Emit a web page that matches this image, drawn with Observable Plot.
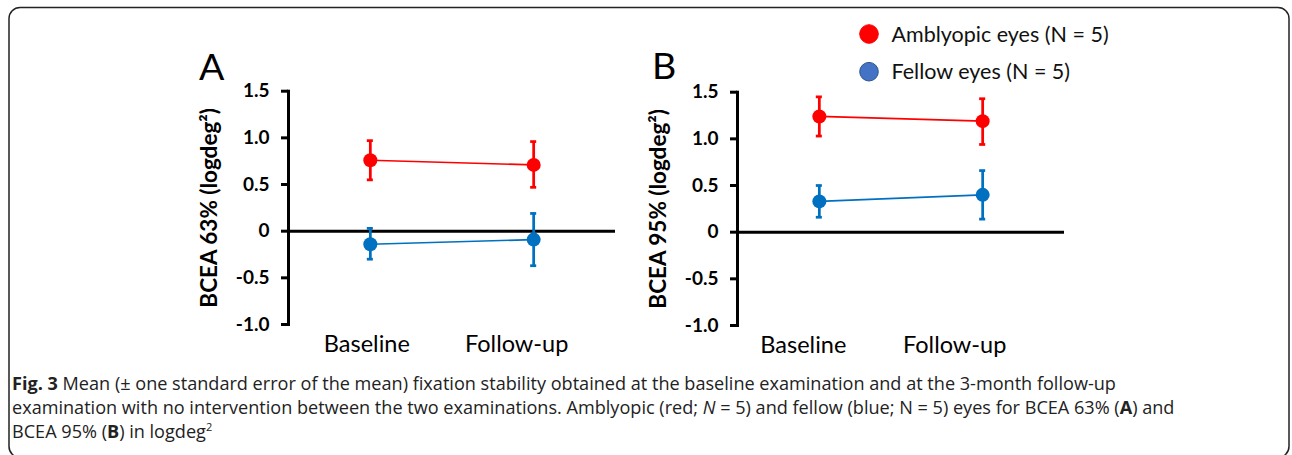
<!DOCTYPE html>
<html>
<head>
<meta charset="utf-8">
<script src="https://cdn.jsdelivr.net/npm/d3@7"></script>
<script src="https://cdn.jsdelivr.net/npm/@observablehq/plot@0.6"></script>
<style>
  html, body { margin: 0; padding: 0; background: #fff; }
  #root { position: relative; width: 1292px; height: 455px; overflow: hidden; font-family: Lato, "Open Sans", sans-serif; }
  .panel { position: absolute; }
  #overlay { position: absolute; left: 0; top: 0; }
  #caption { position: absolute; left: 12px; top: 371px; font-family: "Open Sans", sans-serif; font-size: 18.1px; line-height: 24px; color: #222; white-space: nowrap; }
  #caption sup { font-size: 11px; vertical-align: 7px; line-height: 0; }
</style>
</head>
<body>
<div id="root">
  <svg id="overlay" width="1292" height="455"></svg>
  <div id="panelA" class="panel" style="left:180px; top:40px;"></div>
  <div id="panelB" class="panel" style="left:628.7px; top:41px;"></div>
  <div id="caption"><b>Fig. 3</b> Mean (± one standard error of the mean) fixation stability obtained at the baseline examination and at the 3-month follow-up<br>examination with no intervention between the two examinations. Amblyopic (red; <i>N</i> = 5) and fellow (blue; N = 5) eyes for BCEA 63% (<b>A</b>) and<br>BCEA 95% (<b>B</b>) in logdeg<sup>2</sup></div>
</div>
<script>
// ---- data ----
const timepoints = ["Baseline", "Follow-up"];
const groups = ["Amblyopic eyes (N = 5)", "Fellow eyes (N = 5)"];
const lineColors = ["#FF0000", "#0070C0"];
const legendColors = ["#FF0000", "#4472C4"];
const legendStrokes = ["#FF0000", "#2F528F"];
const yTicks = [-1.0, -0.5, 0, 0.5, 1.0, 1.5];

// Panel A: BCEA 63%
const a63AmblyopicMean = [0.76, 0.71];
const a63AmblyopicLow  = [0.55, 0.47];
const a63AmblyopicHigh = [0.97, 0.96];
const a63FellowMean = [-0.14, -0.09];
const a63FellowLow  = [-0.30, -0.37];
const a63FellowHigh = [0.03, 0.19];

// Panel B: BCEA 95%
const b95AmblyopicMean = [1.24, 1.19];
const b95AmblyopicLow  = [1.03, 0.94];
const b95AmblyopicHigh = [1.45, 1.43];
const b95FellowMean = [0.33, 0.40];
const b95FellowLow  = [0.16, 0.14];
const b95FellowHigh = [0.50, 0.66];

function rows(series) {
  const out = [];
  series.forEach(([group, mean, lo, hi]) => {
    timepoints.forEach((t, i) => out.push({group, time: t, mean: mean[i], lo: lo[i], hi: hi[i]}));
  });
  return out;
}

const dataA = rows([
  [groups[0], a63AmblyopicMean, a63AmblyopicLow, a63AmblyopicHigh],
  [groups[1], a63FellowMean, a63FellowLow, a63FellowHigh]
]);
const dataB = rows([
  [groups[0], b95AmblyopicMean, b95AmblyopicLow, b95AmblyopicHigh],
  [groups[1], b95FellowMean, b95FellowLow, b95FellowHigh]
]);

function panel(data, ylabel, labelShifts) {
  const fmt = d => d === 0 ? "0" : d.toFixed(1);
  return Plot.plot({
    width: 450,
    height: 320,
    marginLeft: 108,
    marginRight: 15,
    marginTop: 50.7,
    marginBottom: 36,
    style: {fontFamily: "Lato, sans-serif", background: "transparent", color: "#000", overflow: "visible"},
    x: {type: "band", domain: timepoints, paddingInner: 0.963, paddingOuter: 0.4825, align: 0.5, round: false},
    y: {domain: [-1, 1.5]},
    color: {domain: groups, range: lineColors},
    marks: [
      Plot.ruleY([0], {stroke: "#000", strokeWidth: 3}),
      Plot.frame({anchor: "left", stroke: "#000", strokeWidth: 3}),
      Plot.axisY({ticks: yTicks, tickFormat: fmt, tickSize: 7, tickPadding: 12, strokeWidth: 3, fontSize: 19, fontWeight: "bold", label: null}),
      Plot.text([ylabel], {text: d => d, frameAnchor: "left", rotate: -90, dx: -79, fontSize: 22.5, fontWeight: "bold", textAnchor: "middle", lineAnchor: "middle"}),
      Plot.axisX([timepoints[0]], {tickSize: 0, tickPadding: 11, fontSize: 23.5, label: null, dx: labelShifts[0]}),
      Plot.axisX([timepoints[1]], {tickSize: 0, tickPadding: 11, fontSize: 23.5, label: null, dx: labelShifts[1]}),
      Plot.ruleX(data, {x: "time", y1: "lo", y2: "hi", stroke: "group", strokeWidth: 2.75}),
      Plot.tickY(data, {x: "time", y: "lo", stroke: "group", strokeWidth: 2.75}),
      Plot.tickY(data, {x: "time", y: "hi", stroke: "group", strokeWidth: 2.75}),
      Plot.line(data, {x: "time", y: "mean", z: "group", stroke: "group", strokeWidth: 1.7}),
      Plot.dot(data, {x: "time", y: "mean", r: 7, fill: "group", stroke: "none"})
    ]
  });
}

document.getElementById("panelA").append(panel(dataA, "BCEA 63% (logdeg²)", [-3.5, -17]));
document.getElementById("panelB").append(panel(dataB, "BCEA 95% (logdeg²)", [-16, -28]));

// ---- overlay: frame box, panel letters, legend ----
const svg = d3.select("#overlay");
svg.append("rect").attr("x", 9).attr("y", 7.5).attr("width", 1280).attr("height", 450)
  .attr("rx", 11).attr("fill", "none").attr("stroke", "#222").attr("stroke-width", 1.5);
svg.append("text").attr("x", 199).attr("y", 80).attr("font-size", 37.5).attr("font-family", "Lato, sans-serif").text("A");
svg.append("text").attr("x", 652).attr("y", 78.5).attr("font-size", 37.5).attr("font-family", "Lato, sans-serif").text("B");
const legendY = [34, 71.7];
groups.forEach((g, i) => {
  svg.append("circle").attr("cx", 869).attr("cy", legendY[i]).attr("r", 9.3)
    .attr("fill", legendColors[i]).attr("stroke", legendStrokes[i]).attr("stroke-width", 1);
  svg.append("text").attr("x", 891.5).attr("y", legendY[i]).attr("dy", "0.36em")
    .attr("font-size", 21.5).attr("font-family", "Lato, sans-serif").attr("fill", "#111").text(g);
});
</script>
</body>
</html>
